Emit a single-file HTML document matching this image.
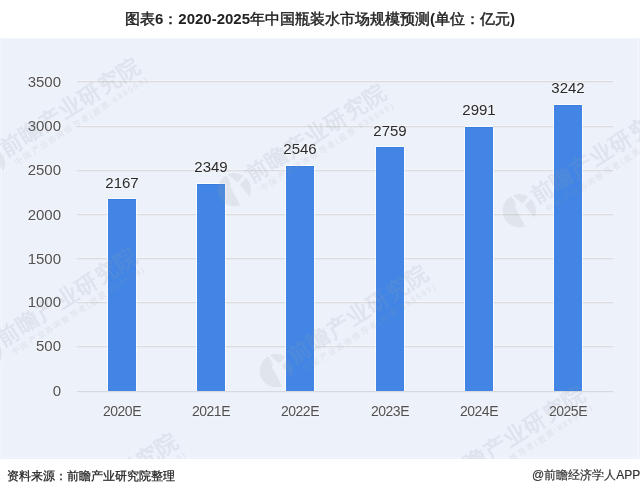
<!DOCTYPE html>
<html><head><meta charset="utf-8">
<style>
*{margin:0;padding:0;box-sizing:border-box}
body{-webkit-font-smoothing:antialiased}
.yl,.vl,.xl,#title,#src,#app{will-change:transform}
html,body{width:640px;height:495px;background:#fff;overflow:hidden;font-family:"Liberation Sans",sans-serif;position:relative}
.abs{position:absolute}
#title i{font-style:normal;font-weight:400;-webkit-text-stroke:0.45px #222}
#title{position:absolute;left:0;width:640px;top:10px;text-align:center;font-size:15px;font-weight:bold;color:#222;line-height:18px;white-space:nowrap}
.grid{position:absolute;left:77px;width:536px;height:1px;background:#dbdcde;box-shadow:0 -1px 0 #f2f5fb,0 1px 0 #e9ecf2}
.yl{text-shadow:0 0 2px #fff;position:absolute;left:0;width:61px;text-align:right;font-size:15px;color:#505050;line-height:15px}
.bar{position:absolute;width:28px;background:#4285e4;box-shadow:-1px 0 0 rgba(255,255,255,0.7),1px 0 0 rgba(255,255,255,0.7),0 -1px 0 rgba(255,255,255,0.85),inset 0 1px 0 #3a7de0}
.vl{text-shadow:0 0 2px #fff;position:absolute;width:60px;text-align:center;font-size:15px;color:#2a2a2a;line-height:15px}
.xl{text-shadow:0 0 2px #fff;position:absolute;width:80px;text-align:center;font-size:14px;color:#505050;line-height:14px;letter-spacing:-0.5px}
#src{-webkit-text-stroke:0.25px #222;position:absolute;left:7px;top:469px;font-size:12px;color:#222;line-height:14px;white-space:nowrap}
#app{-webkit-text-stroke:0.2px #333;position:absolute;right:0;top:468px;font-size:12px;color:#333;line-height:15px;white-space:nowrap}
#wmsvg{position:absolute;left:0;top:38px;width:640px;height:421px}
</style></head><body>
<div id="title"><i>图表</i>6<i>：</i>2020-2025<i>年中国瓶装水市场规模预测</i>(<i>单位：亿元</i>)</div>
<div class="abs" style="left:0;top:38px;width:640px;height:421px;background:#edf1f9"></div>
<div class="abs" style="left:1px;top:38px;width:1px;height:421px;background:#f3f6fc"></div>
<div class="abs" style="left:637px;top:38px;width:2px;height:421px;background:#f2f5fb"></div>
<div class="abs" style="left:0;top:38px;width:640px;height:1px;background:#f3f6fb"></div>
<div class="abs" style="left:0;top:457px;width:640px;height:1px;background:#f2f5fb"></div>

<div class="grid" style="top:81px"></div>
<div class="grid" style="top:126px"></div>
<div class="grid" style="top:170px"></div>
<div class="grid" style="top:214px"></div>
<div class="grid" style="top:258px"></div>
<div class="grid" style="top:302px"></div>
<div class="grid" style="top:346px"></div>

<div class="yl" style="top:74px">3500</div>
<div class="yl" style="top:118px">3000</div>
<div class="yl" style="top:162px">2500</div>
<div class="yl" style="top:207px">2000</div>
<div class="yl" style="top:251px">1500</div>
<div class="yl" style="top:294px">1000</div>
<div class="yl" style="top:338px">500</div>
<div class="yl" style="top:383px">0</div>

<div class="bar" style="left:108px;top:199px;height:192px"></div>
<div class="bar" style="left:197px;top:184px;height:207px"></div>
<div class="bar" style="left:286px;top:166px;height:225px"></div>
<div class="bar" style="left:376px;top:147px;height:244px"></div>
<div class="bar" style="left:465px;top:127px;height:264px"></div>
<div class="bar" style="left:554px;top:105px;height:286px"></div>

<div class="vl" style="left:92px;top:175px">2167</div>
<div class="vl" style="left:181px;top:159px">2349</div>
<div class="vl" style="left:270px;top:141px">2546</div>
<div class="vl" style="left:360px;top:123px">2759</div>
<div class="vl" style="left:449px;top:102px">2991</div>
<div class="vl" style="left:538px;top:80px">3242</div>

<div class="xl" style="left:82px;top:404px">2020E</div>
<div class="xl" style="left:171px;top:404px">2021E</div>
<div class="xl" style="left:260px;top:404px">2022E</div>
<div class="xl" style="left:350px;top:404px">2023E</div>
<div class="xl" style="left:439px;top:404px">2024E</div>
<div class="xl" style="left:528px;top:404px">2025E</div>

<div class="grid" style="top:391px;background:#d6d9de;box-shadow:0 1px 0 #e9ecf2"></div>
<svg id="wmsvg" width="640" height="421" viewBox="0 38 640 421">
<defs>
<g id="wm">
<g transform="translate(-18.6,2) rotate(32.5)" fill="rgba(150,160,175,0.16)">
<path d="M-8.25,-14.3 A16.5,16.5 0 0 0 5.7,15.5 L-4.4,-3.6 L-3.4,-5.6 L-5.6,-10.8 Z"/>
<path d="M-6.5,-15.2 A16.5,16.5 0 0 1 8.7,-14 L3.2,-7.2 Z"/>
<path d="M11.5,-11.9 A16.5,16.5 0 0 1 15.1,6.7 L5.6,-4.6 Z"/>
</g>
<text x="0" y="5.5" font-size="22" font-weight="bold" fill="rgba(150,160,175,0.17)" textLength="161" lengthAdjust="spacing">前瞻产业研究院</text>
<text x="5" y="18.5" font-size="8" fill="rgba(150,160,175,0.2)" textLength="155" lengthAdjust="spacing">中国产业咨询领导者(股票:839599)</text>
</g>
</defs>
<g transform="translate(3,152) rotate(-32.5)"><use href="#wm"/></g>
<g transform="translate(249,178) rotate(-32.5)"><use href="#wm"/></g>
<g transform="translate(534,199) rotate(-32.5)"><use href="#wm"/></g>
<g transform="translate(0,342) rotate(-32.5)"><use href="#wm"/></g>
<g transform="translate(291,359) rotate(-32.5)"><use href="#wm"/></g>
<g transform="translate(448,480) rotate(-32.5)"><use href="#wm"/></g>
<g transform="translate(41,527) rotate(-32.5)"><use href="#wm"/></g>
</svg>

<div id="src">资料来源：前瞻产业研究院整理</div>
<div id="app">@前瞻经济学人APP</div>
</body></html>
